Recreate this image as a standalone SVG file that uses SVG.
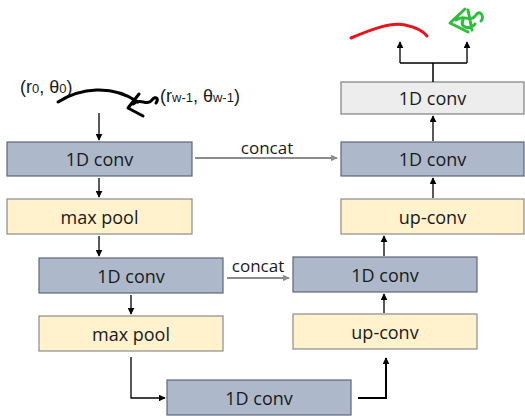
<svg xmlns="http://www.w3.org/2000/svg" width="525" height="416" viewBox="0 0 525 416">
<style>
.blue{fill:#ADB9CA;stroke:#5E6778;stroke-width:1.2}
.yel{fill:#FFF2CC;stroke:#8A8A8A;stroke-width:1.2}
.gry{fill:#EDEDED;stroke:#7F7F7F;stroke-width:1.2}
.lbl{font-family:"Open Sans","Liberation Sans",sans-serif;font-size:18px;fill:#1a1a1a;text-anchor:middle;dominant-baseline:central}
.cc{font-family:"Open Sans","Liberation Sans",sans-serif;font-size:17px;fill:#1a1a1a;text-anchor:middle}
.math{font-family:"Liberation Sans",sans-serif;font-size:18px;fill:#1a1a1a}
.ar{stroke:#000;stroke-width:1.3;fill:none;marker-end:url(#ah)}
.ar2{stroke:#000;stroke-width:2;fill:none;marker-end:url(#ah)}
.ga{stroke:#8C8C8C;stroke-width:2;fill:none;marker-end:url(#gh)}
</style>
<defs>
<marker id="ah" viewBox="0 0 10 10" refX="9" refY="5" markerWidth="7" markerHeight="7" markerUnits="userSpaceOnUse" orient="auto"><path d="M0,0L10,5L0,10z" fill="#000"/></marker>
<marker id="gh" viewBox="0 0 10 10" refX="9" refY="5" markerWidth="7" markerHeight="7" markerUnits="userSpaceOnUse" orient="auto"><path d="M0,0L10,5L0,10z" fill="#8C8C8C"/></marker>
</defs>
<rect width="525" height="416" fill="#fff"/>

<g id="input">
<text class="math" x="20" y="93">(r<tspan font-size="13">0</tspan>, θ<tspan font-size="13">0</tspan>)</text>
<text class="math" x="160" y="102">(r<tspan font-size="13">w-1</tspan>, θ<tspan font-size="13">w-1</tspan>)</text>
<path d="M58,102 C80,88 112,84 138,102" stroke="#000" stroke-width="3" fill="none" stroke-linecap="round"/>
<path d="M139,94 L128,108 L143,116 M133,104 C141,97 146,107 152,100 C156,95 159,99 156,103" stroke="#000" stroke-width="3" fill="none" stroke-linecap="round" stroke-linejoin="round"/>
</g>

<g id="outputs">
<path d="M351,38 C370,30 390,22 405,25 C415,27 423,31 427,36" stroke="#E8141B" stroke-width="3" fill="none" stroke-linecap="round"/>
<path d="M465,9 L450,23 L468,32 M456,20 C464,13 470,24 476,15 C480,9 485,17 481,21 M463,20 C459,28 471,30 475,24 M468,10 L472,30" stroke="#2DBE3C" stroke-width="3" fill="none" stroke-linecap="round" stroke-linejoin="round"/>
</g>

<g id="conv1"><rect class="blue" x="7" y="142" width="185" height="34"/><text class="lbl" x="99.5" y="159">1D conv</text></g>
<g id="maxpool1"><rect class="yel" x="7" y="199" width="185" height="35"/><text class="lbl" x="99.5" y="216.5">max pool</text></g>
<g id="conv2"><rect class="blue" x="39" y="258" width="184" height="35"/><text class="lbl" x="131" y="275.5">1D conv</text></g>
<g id="maxpool2"><rect class="yel" x="39" y="316" width="184" height="35"/><text class="lbl" x="131" y="333.5">max pool</text></g>
<g id="bottleneck"><rect class="blue" x="167" y="380" width="184" height="35"/><text class="lbl" x="259" y="397.5">1D conv</text></g>
<g id="upconv2"><rect class="yel" x="293" y="314" width="184" height="35"/><text class="lbl" x="385" y="331.5">up-conv</text></g>
<g id="conv2r"><rect class="blue" x="293" y="257" width="184" height="35"/><text class="lbl" x="385" y="274.5">1D conv</text></g>
<g id="upconv1"><rect class="yel" x="341" y="199" width="183" height="35"/><text class="lbl" x="432.5" y="216.5">up-conv</text></g>
<g id="conv1r"><rect class="blue" x="341" y="142" width="183" height="34"/><text class="lbl" x="432.5" y="159">1D conv</text></g>
<g id="outconv"><rect class="gry" x="341" y="82" width="183" height="32"/><text class="lbl" x="432.5" y="98">1D conv</text></g>

<g id="connectors">
<path class="ar" d="M99,113 V140"/>
<path class="ar" d="M99,178 V197"/>
<path class="ar" d="M99,236 V256"/>
<path class="ar" d="M131,295 V314"/>
<path class="ar" d="M131,357 V398 H165"/>
<path class="ar2" d="M358,398 H386 V358"/>
<path class="ar" d="M384,313 V294"/>
<path class="ar" d="M384,256 V236"/>
<path class="ar" d="M433,198 V178"/>
<path class="ar" d="M433,141 V116"/>
<path stroke="#000" stroke-width="1.5" fill="none" d="M433,82 V63 M400,63 H467"/>
<path class="ar" d="M400,63 V42"/>
<path class="ar" d="M467,63 V42"/>
<path class="ga" d="M195,158 H337"/>
<text class="cc" x="267" y="154">concat</text>
<path class="ga" d="M227,278 H289"/>
<text class="cc" x="258" y="272">concat</text>
</g>
</svg>
